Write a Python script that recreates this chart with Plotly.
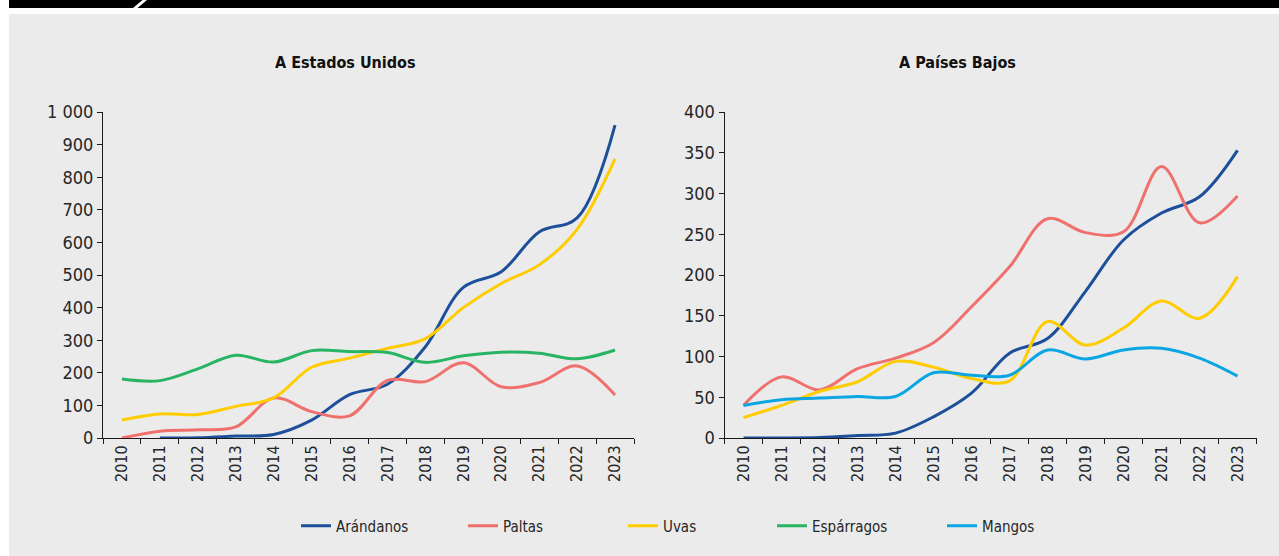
import plotly.graph_objects as go

# ---------------- data ----------------
years = [str(y) for y in range(2010, 2024)]

us_arandanos = [None, 0, 1, 6, 11, 55, 133, 165, 280, 462, 510, 632, 675, 960]
us_paltas = [0, 21, 25, 34, 123, 81, 68, 177, 173, 231, 157, 170, 221, 132]
us_uvas = [55, 74, 72, 97, 123, 217, 245, 275, 305, 400, 474, 531, 640, 856]
us_esparragos = [181, 176, 212, 254, 233, 268, 265, 262, 232, 252, 263, 260, 243, 270]

nl_arandanos = [0, 0, 0.5, 3, 6, 26, 55, 104, 122, 180, 243, 276, 296, 353]
nl_paltas = [40, 75, 59, 85, 98, 117, 161, 210, 269, 252, 253, 333, 264, 297]
nl_uvas = [25, 40, 57, 69, 94, 87, 73, 70, 143, 114, 135, 168, 147, 198]
nl_mangos = [40, 47, 49, 51, 51, 80, 77, 77, 108, 97, 108, 110, 98, 76]

series_names = ["Arándanos", "Paltas", "Uvas", "Espárragos", "Mangos"]
titles = ["A Estados Unidos", "A Países Bajos"]

# ---------------- style ----------------
W, H = 1279, 556
FONT = "Liberation Sans Narrow, DejaVu Sans Condensed, Roboto, sans-serif"
colors = {
    "Arándanos": "#1D4F9A",
    "Paltas": "#F0706E",
    "Uvas": "#FFCC00",
    "Espárragos": "#28B463",
    "Mangos": "#0AA6E3",
}
legend_x = {"Arándanos": 296, "Paltas": 463, "Uvas": 623, "Espárragos": 772, "Mangos": 942}


def px(x):
    return x / W


def py(y):
    return 1 - y / H


fig = go.Figure()

us_data = {"Arándanos": us_arandanos, "Paltas": us_paltas, "Uvas": us_uvas, "Espárragos": us_esparragos}
nl_data = {"Arándanos": nl_arandanos, "Paltas": nl_paltas, "Uvas": nl_uvas, "Mangos": nl_mangos}

legend_keys = {name: ("legend" if i == 0 else f"legend{i+1}") for i, name in enumerate(series_names)}
shown = set()

for name, vals in us_data.items():
    fig.add_trace(go.Scatter(
        x=years, y=vals, name=name, mode="lines",
        line=dict(color=colors[name], width=3, shape="spline", smoothing=1.0),
        xaxis="x", yaxis="y", legend=legend_keys[name],
        showlegend=name not in shown, connectgaps=False,
    ))
    shown.add(name)

for name, vals in nl_data.items():
    fig.add_trace(go.Scatter(
        x=years, y=vals, name=name, mode="lines",
        line=dict(color=colors[name], width=3, shape="spline", smoothing=1.0),
        xaxis="x2", yaxis="y2", legend=legend_keys[name],
        showlegend=name not in shown,
    ))
    shown.add(name)

axis_common = dict(
    showline=True, linecolor="#1a1a1a", linewidth=1, showgrid=False, zeroline=False,
    ticks="outside", ticklen=5, tickcolor="#1a1a1a", tickwidth=1, automargin=False,
)
xcommon = dict(axis_common, type="category", tickson="boundaries", tickangle=-90,
               tickfont=dict(family=FONT, size=16, color="#262626"), range=[-0.5, 13.5])
ycommon = dict(axis_common, tickfont=dict(family=FONT, size=18, color="#262626"),
               separatethousands=True)

ydom = [py(438), py(112)]
layout = dict(
    width=W, height=H, autosize=False,
    margin=dict(l=0, r=0, t=0, b=0, pad=0, autoexpand=False),
    paper_bgcolor="white", plot_bgcolor="rgba(0,0,0,0)",
    separators=". ",
    font=dict(family=FONT, color="#262626"),
    xaxis=dict(xcommon, domain=[px(103), px(634)], anchor="y"),
    yaxis=dict(ycommon, domain=ydom, anchor="x", range=[0, 1000], dtick=100),
    xaxis2=dict(xcommon, domain=[px(724.5), px(1256.5)], anchor="y2"),
    yaxis2=dict(ycommon, domain=ydom, anchor="x2", range=[0, 400], dtick=50),
    shapes=[
        dict(type="rect", xref="paper", yref="paper", x0=px(9), x1=1, y0=0, y1=py(14),
             fillcolor="#EBEBEB", line=dict(width=0), layer="below"),
        dict(type="rect", xref="paper", yref="paper", x0=px(9), x1=1, y0=py(8), y1=1,
             fillcolor="#000000", line=dict(width=0), layer="below"),
        dict(type="path", xref="paper", yref="paper",
             path=f"M {px(133)},{py(8)} L {px(137.5)},{py(8)} L {px(147)},{py(0)} L {px(142.5)},{py(0)} Z",
             fillcolor="#FFFFFF", line=dict(width=0), layer="below"),
    ],
    annotations=[
        dict(text=titles[0], xref="paper", yref="paper", x=px(345.5), y=py(63),
             xanchor="center", yanchor="middle", showarrow=False,
             font=dict(family=FONT, size=16, color="#111111", weight="bold")),
        dict(text=titles[1], xref="paper", yref="paper", x=px(957), y=py(63),
             xanchor="center", yanchor="middle", showarrow=False,
             font=dict(family=FONT, size=16, color="#111111", weight="bold")),
    ],
)

for name in series_names:
    key = legend_keys[name]
    layout[key] = dict(
        x=px(legend_x[name]), y=py(526), xanchor="left", yanchor="middle",
        orientation="h", bgcolor="rgba(0,0,0,0)", borderwidth=0,
        font=dict(family=FONT, size=15, color="#262626"),
        itemclick=False, itemdoubleclick=False,
    )

fig.update_layout(**layout)

fig.write_html("out.html", config={"displayModeBar": False},
               post_script="document.body.style.margin='0';")
